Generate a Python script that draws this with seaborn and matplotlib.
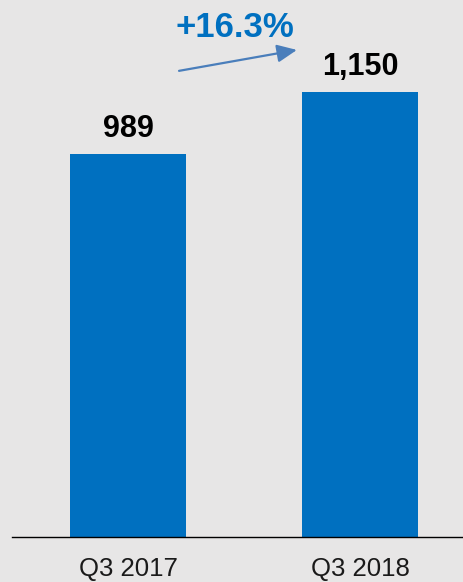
import matplotlib
matplotlib.use("Agg")
import matplotlib.pyplot as plt
import pandas as pd
import seaborn as sns

# values
quarters = ["Q3 2017", "Q3 2018"]
values = [989, 1150]
value_labels = ["989", "1,150"]
growth_label = "+16.3%"

BAR_COLOR = "#0070c0"
BG = "#e7e6e6"

sns.set_theme(style="white")
plt.rcParams["font.family"] = ["Liberation Sans", "DejaVu Sans"]

df = pd.DataFrame({"quarter": quarters, "value": values})

fig = plt.figure(figsize=(4.63, 5.82), dpi=100, facecolor=BG)
ax = fig.add_axes([12 / 463, 45 / 582, 1 - 12 / 463, 537 / 582])
ax.set_facecolor(BG)

sns.barplot(data=df, x="quarter", y="value", color=BAR_COLOR, saturation=1,
            width=0.5, linewidth=0, ax=ax)

ax.set_xlim(-0.5, 1.444)
ax.set_ylim(0, 1387)
ax.set_xlabel("")
ax.set_ylabel("")
ax.set_yticks([])
for side in ["left", "right", "top"]:
    ax.spines[side].set_visible(False)
ax.spines["bottom"].set_color("black")
ax.spines["bottom"].set_linewidth(1.0)
ax.tick_params(axis="x", length=0, pad=14.5, labelsize=18.5, labelcolor="#1a1a1a")

for i, (v, lab) in enumerate(zip(values, value_labels)):
    ax.annotate(lab, xy=(i, v), xytext=(0, 12), textcoords="offset points",
                ha="center", va="baseline", fontsize=22, fontweight="bold",
                color="black")

# growth arrow between bar labels
ax.annotate("", xy=(0.728, 1258), xytext=(0.22, 1204),
            arrowprops=dict(arrowstyle="-|>,head_length=1.0,head_width=0.45",
                            color="#4a7ebb", lw=1.6, shrinkA=0, shrinkB=0))
ax.text(0.461, 1292, growth_label, ha="center", va="baseline",
        fontsize=25, fontweight="bold", color=BAR_COLOR)

fig.savefig("out.png", dpi=100, facecolor=BG)
plt.close(fig)
